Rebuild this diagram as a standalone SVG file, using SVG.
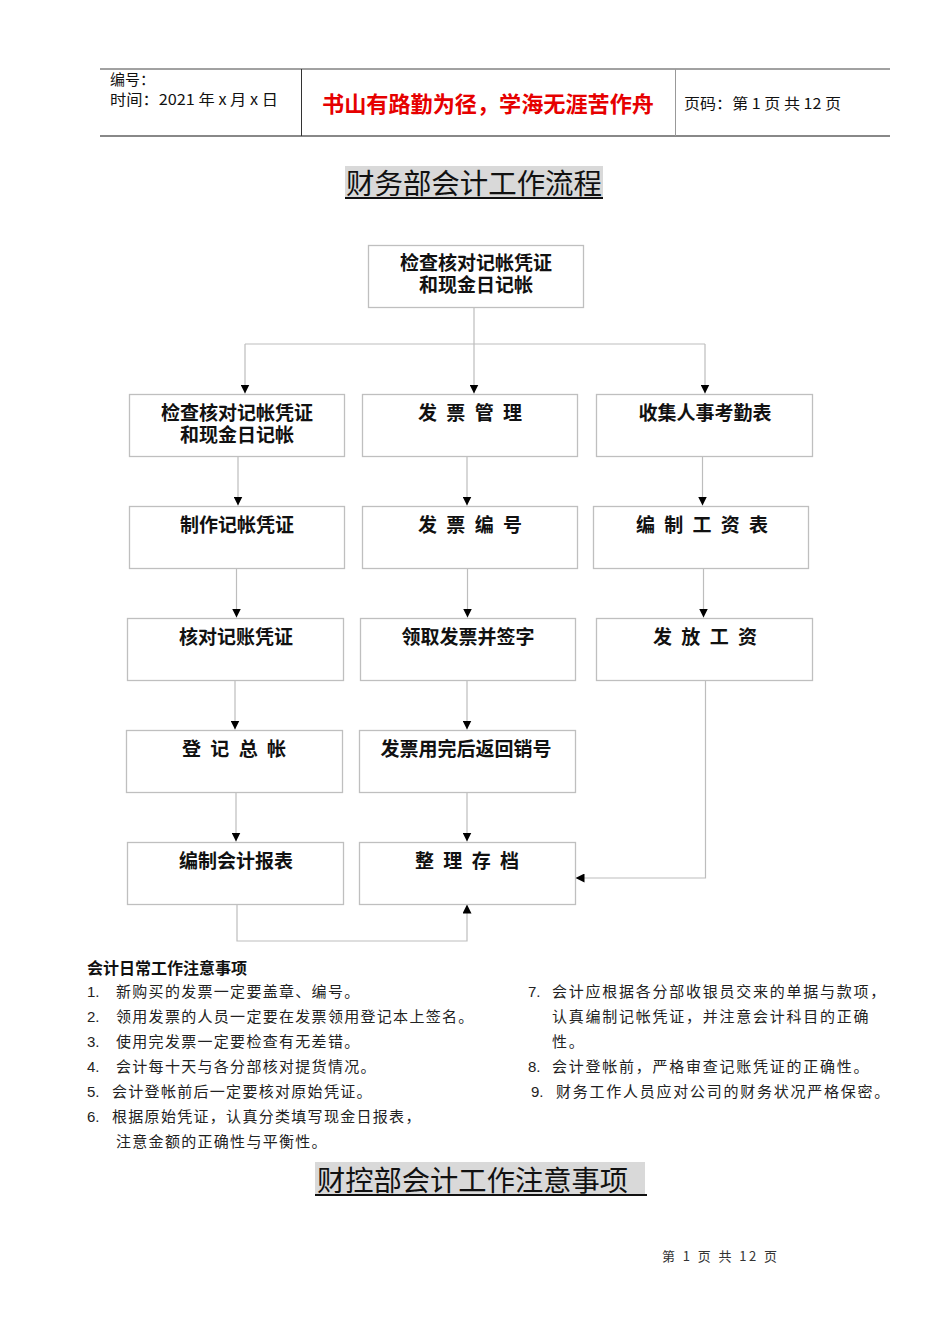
<svg xmlns="http://www.w3.org/2000/svg" width="950" height="1344" viewBox="0 0 950 1344">
<style>
.box{fill:#fff;stroke:#bfbfbf;stroke-width:1.3}
.bt{font-family:"Liberation Sans","Noto Sans CJK SC",sans-serif;font-size:19px;font-weight:bold;fill:#111;text-anchor:middle}
.con{fill:none;stroke:#bdbdbd;stroke-width:1.2}
.hd{font-family:"Noto Sans CJK SC","Liberation Sans",sans-serif;font-size:15px;fill:#111}
.title{font-family:"Noto Sans CJK SC",sans-serif;font-size:28.5px;fill:#111}
.note{font-family:"Noto Sans CJK SC",sans-serif;font-size:15px;fill:#222;letter-spacing:1.3px}
.noteR{font-family:"Noto Sans CJK SC",sans-serif;font-size:15px;fill:#222;letter-spacing:1.75px}
.num{font-family:"Liberation Sans",sans-serif;font-size:15px;fill:#222}
</style>
<defs>
<marker id="ar" viewBox="0 0 10 10" refX="10" refY="5" markerWidth="9" markerHeight="9" orient="auto" markerUnits="userSpaceOnUse">
<path d="M0,0 L10,5 L0,10 z" fill="#000"/>
</marker>
</defs>
<rect width="950" height="1344" fill="#fff"/>

<g id="header">
<line x1="100" y1="69" x2="890" y2="69" stroke="#444" stroke-width="1"/>
<line x1="100" y1="136" x2="890" y2="136" stroke="#888" stroke-width="2"/>
<line x1="301.5" y1="69" x2="301.5" y2="136" stroke="#333" stroke-width="1"/>
<line x1="675.5" y1="69" x2="675.5" y2="136" stroke="#999" stroke-width="1"/>
<text class="hd" x="110" y="85">编号：</text>
<text class="hd" x="110" y="105" textLength="168" lengthAdjust="spacingAndGlyphs">时间：2021 年 x 月 x 日</text>
<text x="488" y="112" font-family="Noto Sans CJK SC,sans-serif" font-size="22" font-weight="bold" fill="#e60000" text-anchor="middle" textLength="332" lengthAdjust="spacingAndGlyphs">书山有路勤为径，学海无涯苦作舟</text>
<text class="hd" x="684" y="109" textLength="157" lengthAdjust="spacingAndGlyphs">页码：第 1 页  共 12 页</text>
</g>

<g id="title1">
<rect x="345" y="166" width="258" height="32" fill="#d9d9d9"/>
<text class="title" x="346" y="194" textLength="256" lengthAdjust="spacingAndGlyphs">财务部会计工作流程</text>
<line x1="345" y1="198" x2="603" y2="198" stroke="#111" stroke-width="2"/>
</g>

<g id="connectors">
<line class="con" x1="474" y1="307" x2="474" y2="393.5" marker-end="url(#ar)"/>
<line class="con" x1="245" y1="344" x2="705" y2="344"/>
<line class="con" x1="245" y1="344" x2="245" y2="393.5" marker-end="url(#ar)"/>
<line class="con" x1="705" y1="344" x2="705" y2="393.5" marker-end="url(#ar)"/>
<line class="con" x1="238" y1="456" x2="238" y2="505.5" marker-end="url(#ar)"/>
<line class="con" x1="467" y1="456" x2="467" y2="505.5" marker-end="url(#ar)"/>
<line class="con" x1="702.5" y1="456" x2="702.5" y2="505.5" marker-end="url(#ar)"/>
<line class="con" x1="236.5" y1="568" x2="236.5" y2="617.5" marker-end="url(#ar)"/>
<line class="con" x1="467.5" y1="568" x2="467.5" y2="617.5" marker-end="url(#ar)"/>
<line class="con" x1="703.5" y1="568" x2="703.5" y2="617.5" marker-end="url(#ar)"/>
<line class="con" x1="235" y1="680" x2="235" y2="729.5" marker-end="url(#ar)"/>
<line class="con" x1="467" y1="680" x2="467" y2="729.5" marker-end="url(#ar)"/>
<polyline class="con" points="705.5,680 705.5,878 575.5,878" marker-end="url(#ar)"/>
<line class="con" x1="236" y1="792" x2="236" y2="841.5" marker-end="url(#ar)"/>
<line class="con" x1="467" y1="792" x2="467" y2="841.5" marker-end="url(#ar)"/>
<polyline class="con" points="237,904 237,941 467,941 467,904.5" marker-end="url(#ar)"/>
</g>

<g id="n0"><rect class="box" x="368.5" y="245.5" width="215" height="62"/><text class="bt"><tspan x="476" y="270">检查核对记帐凭证</tspan><tspan x="476" y="292">和现金日记帐</tspan></text></g>
<g id="n1"><rect class="box" x="129.5" y="394.5" width="215" height="62"/><text class="bt"><tspan x="237" y="420">检查核对记帐凭证</tspan><tspan x="237" y="442">和现金日记帐</tspan></text></g>
<g id="n2"><rect class="box" x="362.5" y="394.5" width="215" height="62"/><text class="bt" x="470" y="420" textLength="104" lengthAdjust="spacing">发 票 管 理</text></g>
<g id="n3"><rect class="box" x="596.5" y="394.5" width="216" height="62"/><text class="bt" x="705" y="420">收集人事考勤表</text></g>
<g id="n4"><rect class="box" x="129.5" y="506.5" width="215" height="62"/><text class="bt" x="237" y="532">制作记帐凭证</text></g>
<g id="n5"><rect class="box" x="362.5" y="506.5" width="215" height="62"/><text class="bt" x="470" y="532" textLength="104" lengthAdjust="spacing">发 票 编 号</text></g>
<g id="n6"><rect class="box" x="593.5" y="506.5" width="215" height="62"/><text class="bt" x="702" y="532" textLength="132" lengthAdjust="spacing">编 制 工 资 表</text></g>
<g id="n7"><rect class="box" x="127.5" y="618.5" width="216" height="62"/><text class="bt" x="236" y="644">核对记账凭证</text></g>
<g id="n8"><rect class="box" x="360.5" y="618.5" width="215" height="62"/><text class="bt" x="468" y="644">领取发票并签字</text></g>
<g id="n9"><rect class="box" x="596.5" y="618.5" width="216" height="62"/><text class="bt" x="705" y="644" textLength="104" lengthAdjust="spacing">发 放 工 资</text></g>
<g id="n10"><rect class="box" x="126.5" y="730.5" width="216" height="62"/><text class="bt" x="234" y="756" textLength="104" lengthAdjust="spacing">登 记 总 帐</text></g>
<g id="n11"><rect class="box" x="359.5" y="730.5" width="216" height="62"/><text class="bt" x="466" y="756">发票用完后返回销号</text></g>
<g id="n12"><rect class="box" x="127.5" y="842.5" width="216" height="62"/><text class="bt" x="236" y="868">编制会计报表</text></g>
<g id="n13"><rect class="box" x="359.5" y="842.5" width="216" height="62"/><text class="bt" x="467" y="868" textLength="104" lengthAdjust="spacing">整 理 存 档</text></g>

<g id="notes">
<text x="87" y="974" font-family="Noto Sans CJK SC,sans-serif" font-size="16" font-weight="bold" fill="#111">会计日常工作注意事项</text>
<text class="num" x="87" y="997">1.</text><text class="note" x="116" y="997">新购买的发票一定要盖章、编号。</text>
<text class="num" x="87" y="1022">2.</text><text class="note" x="116" y="1022">领用发票的人员一定要在发票领用登记本上签名。</text>
<text class="num" x="87" y="1047">3.</text><text class="note" x="116" y="1047">使用完发票一定要检查有无差错。</text>
<text class="num" x="87" y="1072">4.</text><text class="note" x="116" y="1072">会计每十天与各分部核对提货情况。</text>
<text class="num" x="87" y="1097">5.</text><text class="note" x="112" y="1097">会计登帐前后一定要核对原始凭证。</text>
<text class="num" x="87" y="1122">6.</text><text class="note" x="112" y="1122">根据原始凭证，认真分类填写现金日报表，</text>
<text class="note" x="116" y="1147">注意金额的正确性与平衡性。</text>
<text class="num" x="528" y="997">7.</text><text class="noteR" x="552" y="997">会计应根据各分部收银员交来的单据与款项，</text>
<text class="noteR" x="552" y="1022">认真编制记帐凭证，并注意会计科目的正确</text>
<text class="noteR" x="552" y="1047">性。</text>
<text class="num" x="528" y="1072">8.</text><text class="noteR" x="552" y="1072">会计登帐前，严格审查记账凭证的正确性。</text>
<text class="num" x="531" y="1097">9.</text><text class="noteR" x="556" y="1097">财务工作人员应对公司的财务状况严格保密。</text>
</g>

<g id="title2">
<rect x="315" y="1162" width="330" height="33" fill="#d9d9d9"/>
<text class="title" x="317" y="1191" textLength="311" lengthAdjust="spacingAndGlyphs">财控部会计工作注意事项</text>
<line x1="315" y1="1195" x2="647" y2="1195" stroke="#111" stroke-width="2"/>
</g>

<g id="footer">
<text x="662" y="1261" font-family="Noto Sans CJK SC,sans-serif" font-size="13" fill="#333" textLength="115" lengthAdjust="spacing">第 1 页 共 12 页</text>
</g>
</svg>
